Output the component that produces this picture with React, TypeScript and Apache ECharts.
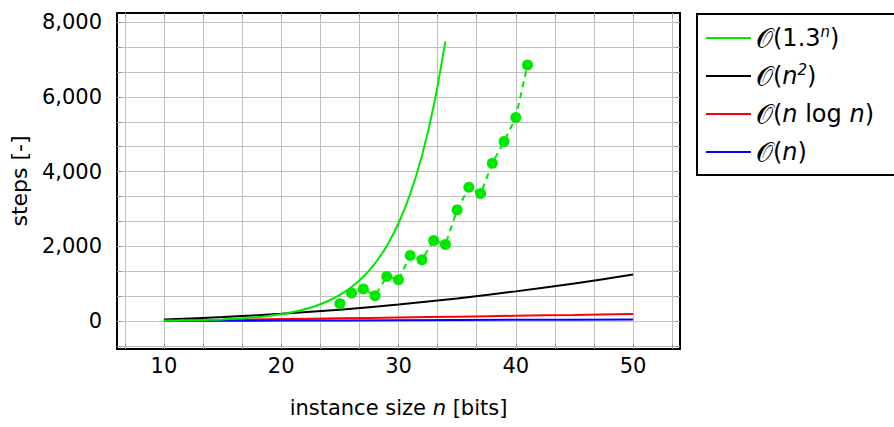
import React, { useEffect, useRef } from "react";
import * as echarts from "echarts";

// ---- data ----
const expN = [10, 11, 12, 13, 14, 15, 16, 17, 18, 19, 20, 21, 22, 23, 24, 25, 26, 27, 28, 29, 30, 31, 32, 33, 34];
const expVals = [14, 18, 23, 30, 39, 51, 67, 87, 112, 146, 190, 247, 321, 417, 542, 705, 917, 1192, 1550, 2015, 2620, 3406, 4427, 5756, 7482];

const polyN = [10, 15, 20, 25, 30, 35, 40, 45, 50];
const quadVals = [50, 112, 200, 312, 450, 612, 800, 1012, 1250];
const nlognVals = [23, 41, 60, 80, 102, 124, 148, 171, 196];
const linVals = [10, 15, 20, 25, 30, 35, 40, 45, 50];

const measN = [25, 26, 27, 28, 29, 30, 31, 32, 33, 34, 35, 36, 37, 38, 39, 40, 41];
const measVals = [472, 755, 862, 685, 1200, 1111, 1760, 1644, 2160, 2053, 2978, 3582, 3413, 4222, 4809, 5449, 6853];

const xMajorTicks = [10, 20, 30, 40, 50];
const yMajorTicks = [0, 2000, 4000, 6000, 8000];
const xRange = [6, 54];
const yRange = [-740, 8240];

const names = ["O(1.3^n)", "O(n^2)", "O(n log n)", "O(n)"];
const legendRich: Record<string, string> = {
  "O(1.3^n)": "{o|𝒪}{t|(1.3}{sup|n}{t|)}",
  "O(n^2)": "{o|𝒪}{t|(}{i|n}{sup|2}{t|)}",
  "O(n log n)": "{o|𝒪}{t|(}{i|n}{t| log }{i|n}{t|)}",
  "O(n)": "{o|𝒪}{t|(}{i|n}{t|)}",
};

const FONT = "DejaVu Sans";

function minorGrid(majors: number[], range: number[], sub: number) {
  const step = (majors[1] - majors[0]) / sub;
  const out: number[] = [];
  const start = majors[0] - Math.floor((majors[0] - range[0]) / step) * step;
  for (let v = start; v <= range[1] + 1e-9; v += step) out.push(+v.toFixed(6));
  return out;
}

const pairs = (xs: number[], ys: number[]) => xs.map((x, i) => [x, ys[i]]);

export default function App() {
  const ref = useRef<HTMLDivElement>(null);
  useEffect(() => {
    if (!ref.current) return;
    const chart = echarts.init(ref.current, undefined, { renderer: "svg" });
    const xGrid = minorGrid(xMajorTicks, xRange, 3);
    const yGrid = minorGrid(yMajorTicks, yRange, 3);
    const axisLine = { show: true, onZero: false, lineStyle: { color: "#000", width: 2 } };
    const tick = (vals: number[]) => ({
      show: true,
      inside: true,
      length: 5,
      customValues: vals,
      lineStyle: { color: "#999", width: 1 },
    });
    const split = { show: true, lineStyle: { color: "#c0c0c0", width: 1 } };
    const LS = 24;
    const rich = {
      o: { fontFamily: FONT, fontSize: 27, color: "#000", lineHeight: 28 },
      t: { fontFamily: FONT, fontSize: LS, color: "#000", lineHeight: 28 },
      i: { fontFamily: FONT, fontSize: LS, fontStyle: "italic", color: "#000", lineHeight: 28 },
      sup: { fontFamily: FONT, fontSize: 15, color: "#000", lineHeight: 13, verticalAlign: "top", fontStyle: "italic" },
    };
    const green = "#00e800";
    chart.setOption({
      animation: false,
      grid: { left: 117, right: 214, top: 13, bottom: 78, containLabel: false },
      xAxis: [
        {
          type: "value",
          min: xRange[0],
          max: xRange[1],
          position: "bottom",
          axisLine,
          axisTick: tick(xGrid),
          splitLine: split,
          axisLabel: {
            customValues: xMajorTicks,
            fontFamily: FONT,
            fontSize: 21,
            color: "#000",
            margin: 6,
          },
          name: "instance size {i|n} [bits]",
          nameLocation: "middle",
          nameGap: 48,
          nameTextStyle: {
            fontFamily: FONT,
            fontSize: 21,
            color: "#000",
            rich: { i: { fontFamily: FONT, fontSize: 21, fontStyle: "italic", color: "#000" } },
          },
        },
        {
          type: "value",
          min: xRange[0],
          max: xRange[1],
          position: "top",
          axisLine,
          axisTick: tick(xGrid),
          splitLine: { show: false },
          axisLabel: { show: false },
        },
      ],
      yAxis: [
        {
          type: "value",
          min: yRange[0],
          max: yRange[1],
          position: "left",
          axisLine,
          axisTick: tick(yGrid),
          splitLine: split,
          axisLabel: {
            customValues: yMajorTicks,
            fontFamily: FONT,
            fontSize: 21,
            color: "#000",
            margin: 15,
            formatter: (v: number) => v.toLocaleString("en-US"),
          },
          name: "steps [-]",
          nameLocation: "middle",
          nameGap: 84,
          nameTextStyle: { fontFamily: FONT, fontSize: 22, color: "#000" },
        },
        {
          type: "value",
          min: yRange[0],
          max: yRange[1],
          position: "right",
          axisLine,
          axisTick: tick(yGrid),
          splitLine: { show: false },
          axisLabel: { show: false },
        },
      ],
      legend: {
        data: names.map((n) => ({ name: n, icon: "rect" })),
        orient: "vertical",
        left: 697,
        top: 14,
        padding: [10, 60, 9, 9],
        itemGap: 10,
        itemWidth: 45,
        itemHeight: 2,
        borderColor: "#000",
        borderWidth: 2,
        borderRadius: 0,
        backgroundColor: "#fff",
        selectedMode: false,
        formatter: (name: string) => legendRich[name] || name,
        textStyle: { fontFamily: FONT, fontSize: LS, lineHeight: 28, color: "#000", rich },
      },
      series: [
        {
          name: names[0],
          type: "line",
          data: pairs(expN, expVals),
          smooth: 0.3,
          symbol: "none",
          lineStyle: { color: green, width: 2 },
          itemStyle: { color: green },
          z: 3,
        },
        {
          name: names[1],
          type: "line",
          data: pairs(polyN, quadVals),
          smooth: 0.3,
          symbol: "none",
          lineStyle: { color: "#000", width: 2 },
          itemStyle: { color: "#000" },
          z: 2,
        },
        {
          name: names[2],
          type: "line",
          data: pairs(polyN, nlognVals),
          smooth: 0.3,
          symbol: "none",
          lineStyle: { color: "#ff0000", width: 2 },
          itemStyle: { color: "#ff0000" },
          z: 2,
        },
        {
          name: names[3],
          type: "line",
          data: pairs(polyN, linVals),
          symbol: "none",
          lineStyle: { color: "#0000ff", width: 2 },
          itemStyle: { color: "#0000ff" },
          z: 2,
        },
        {
          name: "measured",
          type: "line",
          data: pairs(measN, measVals),
          symbol: "circle",
          symbolSize: 11,
          showSymbol: true,
          lineStyle: { color: green, width: 2, type: [6, 5] },
          itemStyle: { color: green },
          z: 4,
        },
      ],
    });
    return () => chart.dispose();
  }, []);
  return (
    <div
      ref={ref}
      style={{ position: "fixed", left: 0, top: 0, width: 894, height: 427, background: "#fff" }}
    />
  );
}
